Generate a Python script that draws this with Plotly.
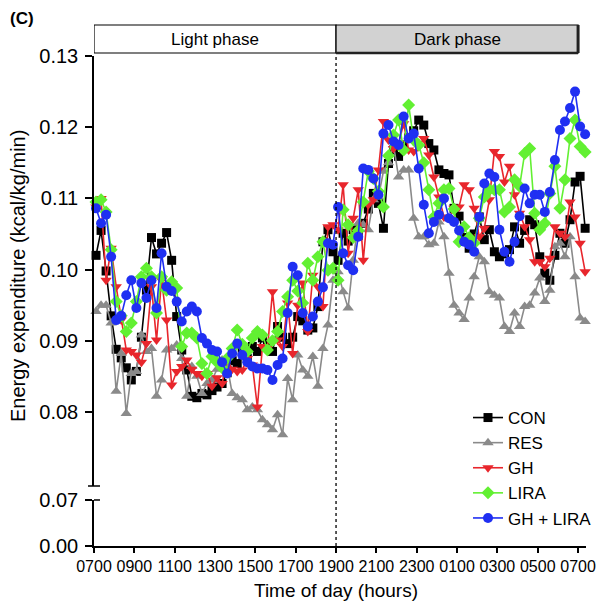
import plotly.graph_objects as go

# ---- data (kcal/kg/min), 15-min bins starting ~07:06 ----
start_hour = 7.1
step_hour = 0.25

con = [0.1020, 0.1055, 0.0998, 0.0935, 0.0888, 0.0876, 0.0862, 0.0845, 0.0857, 0.0905, 0.0971, 0.1045,
       0.1022, 0.1037, 0.1052, 0.1013, 0.0934, 0.0887, 0.0859, 0.0822, 0.0820, 0.0826, 0.0824, 0.0830,
       0.0835, 0.0840, 0.0855, 0.0872, 0.0868, 0.0885, 0.0875, 0.0892, 0.0885, 0.0904, 0.0895, 0.0885,
       0.0920, 0.0905, 0.0896, 0.0905, 0.0934, 0.0928, 0.0915, 0.0918, 0.0948, 0.1039, 0.1056, 0.1025,
       0.1013, 0.1051, 0.1040, 0.1056, 0.1048, 0.1065, 0.1085, 0.1107, 0.1093, 0.1058, 0.1149, 0.1168,
       0.1159, 0.1175, 0.1185, 0.1195, 0.1210, 0.1203, 0.1177, 0.1168, 0.1140, 0.1135, 0.1133, 0.1086,
       0.1075, 0.1045, 0.1030, 0.1050, 0.1074, 0.1042, 0.1056, 0.1025, 0.1018, 0.1022, 0.1028, 0.1060,
       0.1037, 0.1055, 0.1070, 0.1063, 0.1018, 0.0995, 0.0985, 0.1020, 0.1051, 0.1037, 0.1070, 0.1123,
       0.1131, 0.1058]

res = [0.0941, 0.0950, 0.0950, 0.0925, 0.0829, 0.0882, 0.0798, 0.0854, 0.0857, 0.0908, 0.0885, 0.0889,
       0.0822, 0.0845, 0.0887, 0.0889, 0.0894, 0.0875, 0.0822, 0.0864, 0.0850, 0.0826, 0.0840, 0.0845,
       0.0860, 0.0873, 0.0866, 0.0826, 0.0820, 0.0817, 0.0803, 0.0807, 0.0803, 0.0789, 0.0782, 0.0775,
       0.0796, 0.0768, 0.0847, 0.0817, 0.0880, 0.0859, 0.0850, 0.0878, 0.0836, 0.0889, 0.0922, 0.0985,
       0.0997, 0.0969, 0.0946, 0.1013, 0.1065, 0.1063, 0.1056, 0.1098, 0.1102, 0.1138, 0.1150, 0.1175,
       0.1130, 0.1140, 0.1140, 0.1072, 0.1046, 0.1046, 0.1035, 0.1037, 0.1067, 0.1046, 0.0995, 0.0950,
       0.0939, 0.0930, 0.0960, 0.0990, 0.1018, 0.1011, 0.0969, 0.0964, 0.0960, 0.0920, 0.0913, 0.0939,
       0.0920, 0.0948, 0.0950, 0.0967, 0.0988, 0.0955, 0.0971, 0.1032, 0.1037, 0.1018, 0.1046, 0.0990,
       0.0932, 0.0927]

gh = [0.1088, 0.1100, 0.0985, 0.1030, 0.0976, 0.0929, 0.0887, 0.0885, 0.0880, 0.0870, 0.0896, 0.0976,
      0.0901, 0.0985, 0.0929, 0.0838, 0.0857, 0.0864, 0.0873, 0.0860, 0.0854, 0.0850, 0.0854, 0.0836,
      0.0848, 0.0840, 0.0873, 0.0860, 0.0857, 0.0859, 0.0875, 0.0866, 0.0807, 0.0892, 0.0889, 0.0969,
      0.0901, 0.0892, 0.0953, 0.0882, 0.0950, 0.0981, 0.0913, 0.0992, 0.0976, 0.0948, 0.1060, 0.1063,
      0.1056, 0.1119, 0.1023, 0.1072, 0.1112, 0.1013, 0.1091, 0.1098, 0.1140, 0.1208, 0.1182, 0.1170,
      0.1177, 0.1205, 0.1168, 0.1166, 0.1173, 0.1184, 0.1161, 0.1130, 0.1102, 0.1074, 0.1072, 0.1086,
      0.1088, 0.1119, 0.1112, 0.1086, 0.1046, 0.1058, 0.1098, 0.1166, 0.1159, 0.1123, 0.1145, 0.1105,
      0.1079, 0.1060, 0.1042, 0.1011, 0.1011, 0.1004, 0.1016, 0.1060, 0.1051, 0.1046, 0.1095, 0.1074,
      0.1037, 0.0997]

lira = [0.1095, 0.1098, 0.1081, 0.1028, 0.0955, 0.0935, 0.0913, 0.0925, 0.0955, 0.0990, 0.1002, 0.0990,
        0.0939, 0.0990, 0.0971, 0.0983, 0.0974, 0.0892, 0.0911, 0.0911, 0.0904, 0.0868, 0.0854, 0.0878,
        0.0870, 0.0862, 0.0875, 0.0889, 0.0915, 0.0895, 0.0885, 0.0904, 0.0913, 0.0908, 0.0887, 0.0900,
        0.0913, 0.0941, 0.0962, 0.0985, 0.0970, 0.0953, 0.1009, 0.0985, 0.1018, 0.1039, 0.0999, 0.1002,
        0.0985, 0.1084, 0.1063, 0.1045, 0.1055, 0.1095, 0.1138, 0.1128, 0.1110, 0.1088, 0.1160, 0.1189,
        0.1210, 0.1168, 0.1231, 0.1182, 0.1175, 0.1150, 0.1112, 0.1074, 0.1093, 0.1112, 0.1114, 0.1085,
        0.1039, 0.1060, 0.1045, 0.1037, 0.1072, 0.1102, 0.1112, 0.1112, 0.1112, 0.1081, 0.1088, 0.1126,
        0.1117, 0.1163, 0.1170, 0.1079, 0.1056, 0.1065, 0.1107, 0.1145, 0.1086, 0.1126, 0.1184, 0.1210,
        0.1173, 0.1165]

gh_lira = [0.1086, 0.1065, 0.1077, 0.1018, 0.0929, 0.0935, 0.0964, 0.0985, 0.0946, 0.0981, 0.0960, 0.0985,
           0.0946, 0.1023, 0.0976, 0.0970, 0.0955, 0.0927, 0.0941, 0.0948, 0.0941, 0.0904, 0.0896, 0.0887,
           0.0885, 0.0870, 0.0854, 0.0882, 0.0896, 0.0880, 0.0870, 0.0864, 0.0861, 0.0861, 0.0859, 0.0845,
           0.0866, 0.0875, 0.0939, 0.1004, 0.0992, 0.0939, 0.0920, 0.0934, 0.0955, 0.0975, 0.1037, 0.1035,
           0.1088, 0.1023, 0.1006, 0.0999, 0.1046, 0.1142, 0.1140, 0.1128, 0.1105, 0.1191, 0.1203, 0.1180,
           0.1175, 0.1215, 0.1184, 0.1191, 0.1142, 0.1091, 0.1051, 0.1067, 0.1077, 0.1100, 0.1072, 0.1067,
           0.1055, 0.1039, 0.1035, 0.1025, 0.1074, 0.1121, 0.1135, 0.1130, 0.1056, 0.1025, 0.1011, 0.1039,
           0.1075, 0.1114, 0.1093, 0.1105, 0.1105, 0.1081, 0.1109, 0.1154, 0.1196, 0.1208, 0.1227, 0.1250,
           0.1201, 0.1190]

series_names = ["CON", "RES", "GH", "LIRA", "GH + LIRA"]
series_values = [con, res, gh, lira, gh_lira]

tick_hours = [7, 9, 11, 13, 15, 17, 19, 21, 23, 25, 27, 29, 31]
tick_labels = ["0700", "0900", "1100", "1300", "1500", "1700", "1900",
               "2100", "2300", "0100", "0300", "0500", "0700"]
upper_ticks = [0.08, 0.09, 0.10, 0.11, 0.12, 0.13]
lower_ticks = [0.00, 0.07]

# ---- styles ----
colors = ["#000000", "#8a8a8a", "#e8262c", "#62f032", "#1f2ff2"]
symbols = ["square", "triangle-up", "triangle-down", "diamond", "circle"]
msizes = [9, 10, 10, 10, 10]
FONT = "Liberation Sans, Arial, Helvetica, sans-serif"

W, H = 597, 608
PL, PR, PT, PB = 94, 586, 25, 546          # plot area in screen pixels
L, R, T, B = PL, W - PR, PT, H - PB
plot_w = PR - PL
plot_h = PB - PT

def px(sx):
    return (sx - PL) / plot_w

def py(sy):
    return (PB - sy) / plot_h

upper_dom = [py(486), py(56)]
lower_dom = [0, py(500)]

fig = go.Figure()
for name, vals, c, s, ms in zip(series_names, series_values, colors, symbols, msizes):
    xs = [start_hour + step_hour * i for i in range(len(vals))]
    fig.add_trace(go.Scatter(
        x=xs, y=vals, name=name, mode="lines+markers",
        line=dict(color=c, width=1.6),
        marker=dict(symbol=s, size=ms, color=c, line=dict(width=0)),
        xaxis="x", yaxis="y", cliponaxis=False,
    ))
fig.add_trace(go.Scatter(x=[None], y=[None], xaxis="x", yaxis="y2", showlegend=False,
                         hoverinfo="skip"))

x_range = [7, 7 + plot_w / 20.17]

fig.update_layout(
    width=W, height=H,
    margin=dict(l=L, r=R, t=T, b=B, autoexpand=False),
    paper_bgcolor="white", plot_bgcolor="white",
    font=dict(family=FONT, color="black"),
    showlegend=True,
    legend=dict(x=px(468), y=py(400), xanchor="left", yanchor="top",
                font=dict(size=17, family=FONT), bgcolor="rgba(0,0,0,0)",
                itemwidth=30, tracegroupgap=0),
    xaxis=dict(range=x_range, anchor="y2", showline=True, linecolor="black", linewidth=1.5,
               ticks="outside", ticklen=5, tickwidth=1.5, tickcolor="black",
               tickvals=tick_hours, ticktext=tick_labels, tickfont=dict(size=16),
               showgrid=False, zeroline=False),
    yaxis=dict(domain=upper_dom, range=[0.0696, 0.13], anchor="x", showline=True,
               linecolor="black", linewidth=1.5, ticks="outside", ticklen=7, tickwidth=1.5,
               tickcolor="black", tickvals=upper_ticks, ticktext=["%.2f" % v for v in upper_ticks],
               tickfont=dict(size=20), ticklabelstandoff=3, showgrid=False, zeroline=False),
    yaxis2=dict(domain=lower_dom, range=[0, 0.07], anchor="x", showline=True,
                linecolor="black", linewidth=1.5, ticks="outside", ticklen=7, tickwidth=1.5,
                tickcolor="black", tickvals=lower_ticks, ticktext=["%.2f" % v for v in lower_ticks],
                tickfont=dict(size=20), ticklabelstandoff=3, showgrid=False, zeroline=False),
)

shapes = []
box_bot, box_top = py(53), py(25)
shapes.append(dict(type="rect", xref="x", yref="paper", x0=7, x1=19, y0=box_bot, y1=box_top,
                   line=dict(color="black", width=1.2), fillcolor="white", layer="above"))
shapes.append(dict(type="rect", xref="x", yref="paper", x0=19, x1=31, y0=box_bot, y1=box_top,
                   line=dict(color="black", width=1.2), fillcolor="#d2d2d2", layer="above"))
shapes.append(dict(type="line", xref="x", yref="paper", x0=31, x1=31, y0=box_bot, y1=box_top,
                   line=dict(color="#222222", width=3)))
shapes.append(dict(type="line", xref="x", yref="paper", x0=19, x1=31, y0=box_bot, y1=box_bot,
                   line=dict(color="#222222", width=2.5)))
shapes.append(dict(type="line", xref="x", yref="paper", x0=19, x1=19, y0=0, y1=upper_dom[1],
                   line=dict(color="black", width=1.3, dash="dot")))
shapes.append(dict(type="line", xref="paper", yref="paper", xsizemode="pixel", xanchor=0,
                   x0=-6, x1=6, y0=upper_dom[0], y1=upper_dom[0],
                   line=dict(color="black", width=1.5)))
shapes.append(dict(type="line", xref="paper", yref="paper", xsizemode="pixel", xanchor=0,
                   x0=0, x1=6, y0=lower_dom[1], y1=lower_dom[1],
                   line=dict(color="black", width=1.5)))

annotations = [
    dict(text="Light phase", xref="x", yref="paper", x=13, y=(box_bot + box_top) / 2,
         showarrow=False, font=dict(size=17, family=FONT), xanchor="center", yanchor="middle"),
    dict(text="Dark phase", xref="x", yref="paper", x=25, y=(box_bot + box_top) / 2,
         showarrow=False, font=dict(size=17, family=FONT), xanchor="center", yanchor="middle"),
    dict(text="<b>(C)</b>", xref="paper", yref="paper", x=px(8), y=py(19),
         showarrow=False, font=dict(size=17, family=FONT), xanchor="left", yanchor="middle"),
    dict(text="Energy expenditure (kcal/kg/min)", xref="paper", yref="paper",
         x=px(18), y=py(276), textangle=-90, showarrow=False,
         font=dict(size=20, family=FONT), xanchor="center", yanchor="middle"),
    dict(text="Time of day (hours)", xref="paper", yref="paper",
         x=px(336), y=py(590), showarrow=False,
         font=dict(size=19, family=FONT), xanchor="center", yanchor="middle"),
]
fig.update_layout(shapes=shapes, annotations=annotations)

fig.write_html("out.html", config={"displayModeBar": False},
               post_script="document.body.style.margin='0';document.body.style.overflow='hidden';")
